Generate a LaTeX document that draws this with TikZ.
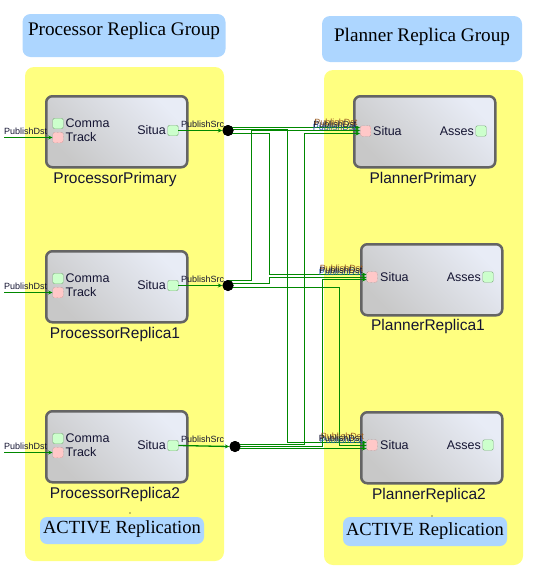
\documentclass[tikz,border=0pt]{standalone}
\usepackage{fontspec}
\setmainfont{Liberation Serif}
\setsansfont{Liberation Sans}
\usetikzlibrary{arrows.meta}
\definecolor{panelY}{HTML}{FFFF80}
\definecolor{hdrB}{HTML}{ADD6FF}
\definecolor{wireG}{HTML}{008800}
\definecolor{blkB}{HTML}{646464}
\definecolor{blkT}{HTML}{E8ECF6}
\definecolor{blkD}{HTML}{C8C8C8}
\definecolor{pgF}{HTML}{CCFFCC}
\definecolor{pgB}{HTML}{80B080}
\definecolor{prF}{HTML}{FFC8C8}
\definecolor{prB}{HTML}{A07070}
\definecolor{lblC}{HTML}{141432}
\definecolor{lblO}{HTML}{9A5A20}
\definecolor{lblB}{HTML}{3060B0}
\begin{document}
\begin{tikzpicture}[x=1pt,y=-1pt,
  panelbox/.style={fill=panelY, rounded corners=9pt},
  hdrbox/.style={fill=hdrB, rounded corners=8pt},
  hdrtext/.style={font=\fontsize{19.2}{22}\selectfont, text=black, inner sep=0},
  acttext/.style={font=\fontsize{18.5}{22}\selectfont, text=black, inner sep=0},
  block/.style={draw=blkB, line width=2.5pt, rounded corners=6pt,
    top color=blkT, bottom color=blkD, shading angle=-45,
    minimum width=141pt, minimum height=71pt, anchor=north west, inner sep=0},
  blabel/.style={font=\fontsize{15.5}{18}\sffamily, text=lblC, inner sep=0},
  plabel/.style={font=\fontsize{12.5}{14}\sffamily, text=lblC, inner sep=0},
  slabel/.style={font=\fontsize{9}{11}\sffamily, text=lblC, inner sep=0},
  gport/.style={draw=pgB, fill=pgF, minimum width=10.5pt, minimum height=10.5pt, inner sep=0, rounded corners=1.5pt},
  rport/.style={draw=prB, fill=prF, densely dotted, minimum width=10.5pt, minimum height=10.5pt, inner sep=0, rounded corners=1.5pt},
  dotnode/.style={circle, fill=black, minimum size=11pt, inner sep=0},
  wire/.style={draw=wireG, line width=1.3pt, -{Stealth[length=4.5pt,width=4pt]}},
]
\useasboundingbox (0,0) rectangle (550,570);

% panels
\fill[panelbox] (25,67) rectangle (224,561);
\fill[panelbox] (324,70) rectangle (523,565);

% headers
\fill[hdrbox] (22.5,14) rectangle (225.5,57);
\node[hdrtext] (hl) at (124,31) {Processor Replica Group};
\fill[hdrbox] (322,16) rectangle (522,62);
\node[hdrtext] (hr) at (422,36.5) {Planner Replica Group};

% ACTIVE boxes
\fill[hdrbox, rounded corners=7pt] (40,517) rectangle (204,544);
\node[acttext] (al) at (122,529.5) {ACTIVE Replication};
\fill[hdrbox, rounded corners=7pt] (343,517) rectangle (507,546);
\node[acttext] (ar) at (425,531) {ACTIVE Replication};
\fill[black] (130,513) circle (0.6);
\fill[black] (432,516) circle (0.6);

% processor blocks
\foreach \n/\dy/\lab in {1/0/ProcessorPrimary, 2/155/ProcessorReplica1, 3/315/ProcessorReplica2}{
  \node[block] (pb\n) at (45,95+\dy) {};
  \node[blabel] (pl\n) at (115,179.5+\dy) {\lab};
  \node[gport] (c\n) at (58,123.5+\dy) {};
  \node[rport] (t\n) at (58,137.5+\dy) {};
  \node[plabel, anchor=west] (ct\n) at (65.5,123.5+\dy) {Comma};
  \node[plabel, anchor=west] (tt\n) at (65.5,137.5+\dy) {Track};
  \node[gport] (s\n) at (173,130.5+\dy) {};
  \node[plabel, anchor=east] (st\n) at (166,130.5+\dy) {Situa};
  \coordinate (in\n) at (4,137.5+\dy);
  \node[slabel, anchor=base west] (pd\n) at (4,134+\dy) {PublishDst};
  \draw[wire] (in\n) -- (t\n.west);
  \node[slabel, anchor=base west] (ps\n) at (181,127+\dy) {PublishSrc};
}

% planner blocks
\node[block] (qb1) at (353,95) {};
\node[blabel] (ql1) at (423,179.5) {PlannerPrimary};
\node[rport] (q1) at (365.5,131) {};
\node[plabel, anchor=west] (qs1) at (373,131) {Situa};
\node[gport] (qa1) at (481,131) {};
\node[plabel, anchor=east] (qt1) at (474,131) {Asses};

\node[block] (qb2) at (360,243) {};
\node[blabel] (ql2) at (428,326) {PlannerReplica1};
\node[rport] (q2) at (372,277) {};
\node[plabel, anchor=west] (qs2) at (380,277) {Situa};
\node[gport] (qa2) at (488,277) {};
\node[plabel, anchor=east] (qt2) at (481,277) {Asses};

\node[block] (qb3) at (360,411) {};
\node[blabel] (ql3) at (429,495) {PlannerReplica2};
\node[rport] (q3) at (372,445) {};
\node[plabel, anchor=west] (qs3) at (380,445) {Situa};
\node[gport] (qa3) at (488,445) {};
\node[plabel, anchor=east] (qt3) at (481,445) {Asses};

% dots
\node[dotnode] (d1) at (228,130.5) {};
\node[dotnode] (d2) at (228,285.5) {};
\node[dotnode] (d3) at (235,446.5) {};

% publish src lines
\draw[wire] (s1.east) -- (d1.west);
\draw[wire] (s2.east) -- (d2.west);
\draw[wire] (s3.east) -- (d3.west);

% fan-out wires
\draw[wire] ([yshift=3pt]d1.center) -- ([yshift=3.5pt]q1.west);
\draw[wire] ([yshift=-3pt]d1.center) -| (269.5,274.5) -- ([yshift=2.5pt]q2.west);
\draw[wire] ([yshift=1pt]d1.center) -| (287.5,442.5) -- ([yshift=2.5pt]q3.west);

\draw[wire] ([yshift=5pt]d2.center) -| (251.5,130.5) -- ([yshift=0.5pt]q1.west);
\draw[wire] ([yshift=2pt]d2.center) -| (269.5,277.5) -- ([yshift=-0.5pt]q2.west);
\draw[wire] ([yshift=-2pt]d2.center) -| (339.5,445.5) -- ([yshift=-0.5pt]q3.west);

\draw[wire] ([yshift=2pt]d3.center) -| (304.5,133.5) -- ([yshift=-2.5pt]q1.west);
\draw[wire] (d3.center) -| (322.5,279.5) -- ([yshift=-2.5pt]q2.west);
\draw[wire] ([yshift=-2pt]d3.center) -- ([yshift=-3.5pt]q3.west);

% redraw dots on top
\node[dotnode] (d1b) at (d1) {};
\node[dotnode] (d2b) at (d2) {};
\node[dotnode] (d3b) at (d3) {};

% overlapping PublishDst labels at planner inputs (as in the reference)
\node[slabel, text=lblB, anchor=base east] (x11) at (356,130) {PublishDst};
\node[slabel, text=lblO, anchor=base east] (x12) at (357.5,125) {PublishDst};
\node[slabel, anchor=base east] (x13) at (356.5,127.5) {PublishDst};

\node[slabel, text=lblB, anchor=base east] (x21) at (362,275) {PublishDst};
\node[slabel, text=lblO, anchor=base east] (x22) at (363,271) {PublishDst};
\node[slabel, anchor=base east] (x23) at (362.5,273) {PublishDst};

\node[slabel, text=lblB, anchor=base east] (x31) at (363,443) {PublishDst};
\node[slabel, text=lblO, anchor=base east] (x32) at (364,439) {PublishDst};
\node[slabel, anchor=base east] (x33) at (362,441) {PublishDst};
\end{tikzpicture}
\end{document}
